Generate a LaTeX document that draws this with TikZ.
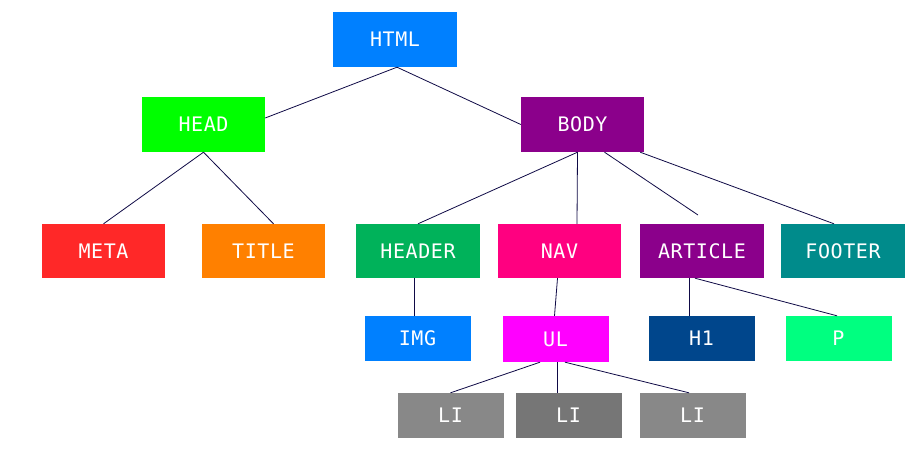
\documentclass[tikz,border=0pt]{standalone}
\usepackage{fontspec}
\newfontfamily\boxfont[LetterSpace=3]{DejaVu Sans Mono}
\definecolor{cHtml}{RGB}{0,128,255}
\definecolor{cHead}{RGB}{0,255,0}
\definecolor{cBody}{RGB}{139,0,139}
\definecolor{cMeta}{RGB}{255,40,40}
\definecolor{cTitle}{RGB}{255,128,0}
\definecolor{cHeader}{RGB}{0,178,90}
\definecolor{cNav}{RGB}{255,0,128}
\definecolor{cFooter}{RGB}{0,139,139}
\definecolor{cUl}{RGB}{255,0,255}
\definecolor{cHone}{RGB}{0,70,140}
\definecolor{cP}{RGB}{0,255,128}
\definecolor{cLi}{RGB}{136,136,136}
\definecolor{cLiMid}{RGB}{118,118,118}
\definecolor{cLine}{RGB}{15,10,70}
\begin{document}
\begin{tikzpicture}[x=1pt,y=-1pt,
  box/.style={draw=none, inner sep=0pt, minimum width=123pt, minimum height=55pt,
    text=white, font=\boxfont\fontsize{20}{20}\selectfont},
  smallbox/.style={box, minimum width=106pt, minimum height=46pt},
  conn/.style={draw=cLine, line width=0.8pt}]
\useasboundingbox[fill=white] (0,0) rectangle (915,455);
% level 0
\node[box, fill=cHtml, minimum width=124pt] (html) at (395,39.5) {HTML};
% level 1
\node[box, fill=cHead] (head) at (203.5,124.5) {HEAD};
\node[box, fill=cBody] (body) at (582.5,124.5) {BODY};
% level 2
\node[box, fill=cMeta, minimum height=54pt] (meta) at (103.5,251) {META};
\node[box, fill=cTitle, minimum height=54pt] (title) at (263.5,251) {TITLE};
\node[box, fill=cHeader, minimum height=54pt, minimum width=124pt] (header) at (418,251) {HEADER};
\node[box, fill=cNav, minimum height=54pt] (nav) at (559.5,251) {NAV};
\node[box, fill=cBody, minimum height=54pt, minimum width=124pt] (article) at (702,251) {ARTICLE};
\node[box, fill=cFooter, minimum height=54pt, minimum width=124pt] (footer) at (843,251) {FOOTER};
% level 3
\node[smallbox, fill=cHtml, minimum height=45pt] (img) at (417.5,338.5) {IMG};
\node[smallbox, fill=cUl] (ul) at (555.5,339) {UL};
\node[smallbox, fill=cHone, minimum height=45pt] (h1) at (701.5,338.5) {H1};
\node[smallbox, fill=cP, minimum height=45pt] (p) at (838.5,338.5) {P};
% level 4
\node[smallbox, fill=cLi, minimum height=45pt] (li1) at (450.5,415.5) {LI};
\node[smallbox, fill=cLiMid, minimum height=45pt] (li2) at (568.5,415.5) {LI};
\node[smallbox, fill=cLi, minimum height=45pt] (li3) at (692.5,415.5) {LI};
\coordinate (artend) at (698,215);
% connectors
\draw[conn] ([xshift=2pt]html.south) -- ([yshift=6.5pt]head.east);
\draw[conn] ([xshift=2pt]html.south) -- (body.west);
\draw[conn] (head.south) -- (meta.north);
\draw[conn] (head.south) -- ([xshift=10pt]title.north);
\draw[conn] ([xshift=-5pt]body.south) -- (header.north);
\draw[conn] ([xshift=-5pt]body.south) -- ([xshift=17.5pt]nav.north);
\draw[conn] ([xshift=22pt]body.south) -- (artend);
\draw[conn] ([xshift=-4pt]body.south east) -- ([xshift=-9pt]footer.north);
\draw[conn] ([xshift=-4pt]header.south) -- ([xshift=-3.5pt]img.north);
\draw[conn] ([xshift=-2pt]nav.south) -- ([xshift=-1pt]ul.north);
\draw[conn] ([xshift=-13pt]article.south) -- ([xshift=-12.5pt]h1.north);
\draw[conn] ([xshift=-7pt]article.south) -- ([xshift=-1.5pt]p.north);
\draw[conn] ([xshift=-15.5pt]ul.south) -- (li1.north);
\draw[conn] ([xshift=2pt]ul.south) -- ([xshift=-11pt]li2.north);
\draw[conn] ([xshift=9.5pt]ul.south) -- ([xshift=-3.5pt]li3.north);
\end{tikzpicture}
\end{document}
